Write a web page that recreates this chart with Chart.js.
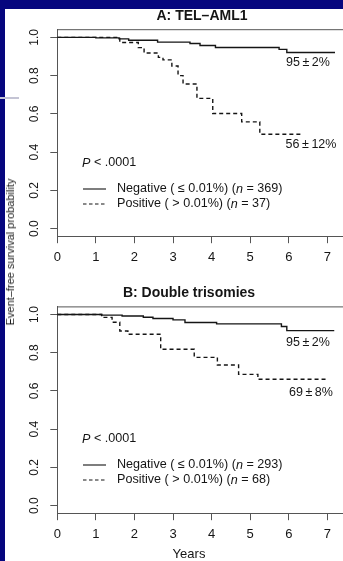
<!DOCTYPE html>
<html>
<head>
<meta charset="utf-8">
<script src="https://cdn.jsdelivr.net/npm/chart.js@4.4.0/dist/chart.umd.min.js"></script>
<style>
  html, body { margin: 0; padding: 0; }
  body { width: 343px; height: 561px; overflow: hidden; background: #06067e; position: relative;
         font-family: "Liberation Sans", Arial, sans-serif; }
  #paper { position: absolute; left: 5px; top: 9px; width: 338px; height: 552px; background: #fff; }
  #rule { position: absolute; left: 0; top: 97px; width: 19px; height: 2px; background: #c4c4d4; }
  canvas { position: absolute; left: 0; }
  #kmA { top: 0; }
  #kmB { top: 270px; }
  #ytitle { position: absolute; left: 10px; top: 252px; transform: translate(-50%, -50%) rotate(-90deg);
            white-space: nowrap; font-size: 11px; color: #1a1a1a; }
</style>
</head>
<body>
<div id="paper"></div>
<div id="rule"></div>
<canvas id="kmA" width="370" height="265"></canvas>
<canvas id="kmB" width="370" height="291"></canvas>
<div id="ytitle">Event–free survival probability</div>
<script>
const yearTicks = [0, 1, 2, 3, 4, 5, 6, 7];
const survTicks = [0, 0.2, 0.4, 0.6, 0.8, 1.0];

// A: TEL-AML1
const telNegYears = [0, 1.0, 1.6, 1.85, 2.6, 3.44, 3.7, 4.1, 5.75, 5.95, 7.2];
const telNegSurv  = [1, 0.997, 0.992, 0.985, 0.975, 0.968, 0.957, 0.947, 0.937, 0.921, 0.921];
const telPosYears = [0, 1.62, 2.1, 2.25, 2.62, 2.74, 2.97, 3.13, 3.26, 3.62, 4.03, 4.78, 5.25, 6.37];
const telPosSurv  = [1, 0.973, 0.946, 0.918, 0.895, 0.882, 0.85, 0.80, 0.756, 0.681, 0.602, 0.558, 0.493, 0.493];
const telCounts = [369, 37];
const telEstimates = ['95\u2009±\u20092%', '56\u2009±\u200912%'];

// B: double trisomies
const triNegYears = [0, 1.15, 1.68, 2.23, 2.48, 3.0, 3.31, 4.13, 5.81, 5.95, 7.18];
const triNegSurv  = [1, 0.997, 0.992, 0.986, 0.979, 0.972, 0.958, 0.951, 0.937, 0.916, 0.916];
const triPosYears = [0, 1.15, 1.42, 1.62, 1.83, 2.68, 3.55, 4.15, 4.7, 5.2, 7.02];
const triPosSurv  = [1, 0.985, 0.96, 0.914, 0.897, 0.818, 0.776, 0.736, 0.687, 0.661, 0.661];
const triCounts = [293, 68];
const triEstimates = ['95\u2009±\u20092%', '69\u2009±\u20098%'];

const groupNames = ['Negative', 'Positive'];
const groupCuts = ['≤ 0.01%', '> 0.01%'];
const pValue = '.0001';

const FONT = '"Liberation Sans", Arial, Helvetica, sans-serif';
const INK = '#151515';
const AXIS = '#555';

function toPoints(xs, ys) {
    return xs.map((x, i) => ({ x: x, y: ys[i] }));
}

function richText(ctx, x, y, parts, size) {
    parts.forEach(p => {
        ctx.font = (p[1] ? 'italic ' : '') + size + 'px ' + FONT;
        ctx.fillText(p[0], x, y);
        x += ctx.measureText(p[0]).width;
    });
}

// box top, title, estimates, p value and legend
function decor(o) {
    return {
        id: 'decor',
        afterDraw(chart) {
            const ctx = chart.ctx, a = chart.chartArea;
            ctx.save();
            ctx.strokeStyle = AXIS;
            ctx.lineWidth = 1;
            ctx.beginPath();
            ctx.moveTo(a.left, a.top);
            ctx.lineTo(chart.width, a.top);
            ctx.stroke();

            ctx.fillStyle = INK;
            ctx.textBaseline = 'middle';
            ctx.textAlign = 'center';
            ctx.font = 'bold 14px ' + FONT;
            ctx.fillText(o.title, o.titleX, o.titleY);

            ctx.font = '12.5px ' + FONT;
            ctx.fillText(o.estimates[0], 308, o.estY[0]);
            ctx.fillText(o.estimates[1], 311, o.estY[1]);
            ctx.font = '13px ' + FONT;
            if (o.xTitle) ctx.fillText(o.xTitle, 189, o.xTitleY);

            ctx.textAlign = 'left';
            richText(ctx, 82, o.pY, [['P', true], [' < ' + pValue, false]], 12.6);

            for (let i = 0; i < 2; i++) {
                const y = o.pY + 26 + i * 15;
                ctx.strokeStyle = INK;
                ctx.lineWidth = 1.1;
                ctx.setLineDash(i ? [3.5, 2.5] : []);
                ctx.beginPath();
                ctx.moveTo(83, y);
                ctx.lineTo(106, y);
                ctx.stroke();
                richText(ctx, 117, y, [
                    [groupNames[i] + ' ( ' + groupCuts[i] + ') (', false],
                    ['n', true],
                    [' = ' + o.counts[i] + ')', false]
                ], 12.6);
            }
            ctx.restore();
        }
    };
}

function kmChart(id, o) {
    const canvas = document.getElementById(id);
    const W = canvas.width, H = canvas.height;
    return new Chart(canvas, {
        type: 'line',
        data: {
            datasets: [
                { data: toPoints(o.negX, o.negY), stepped: true, borderColor: INK, borderWidth: 1.4, pointRadius: 0, fill: false },
                { data: toPoints(o.posX, o.posY), stepped: true, borderColor: INK, borderWidth: 1.4, borderDash: [4, 3], pointRadius: 0, fill: false }
            ]
        },
        options: {
            responsive: false,
            animation: false,
            events: [],
            layout: { padding: { top: o.top, right: W - 346.6, left: 0, bottom: 0 } },
            plugins: { legend: { display: false }, tooltip: { enabled: false } },
            scales: {
                x: {
                    type: 'linear', min: 0, max: 7.5,
                    afterBuildTicks: s => { s.ticks = yearTicks.map(v => ({ value: v })); },
                    afterFit: s => { s.height = H - o.bottom; s.paddingLeft = 0; s.paddingRight = 0; },
                    border: { color: AXIS, width: 1 },
                    grid: { drawOnChartArea: false, tickLength: 7, color: AXIS },
                    ticks: { color: INK, font: { size: 13, family: FONT }, padding: 6, maxRotation: 0, autoSkip: false }
                },
                y: {
                    type: 'linear', min: -0.04, max: 1.04,
                    afterBuildTicks: s => { s.ticks = survTicks.map(v => ({ value: v })); },
                    afterFit: s => { s.width = 57.3; s.paddingTop = 0; s.paddingBottom = 0; },
                    border: { color: AXIS, width: 1 },
                    grid: { drawOnChartArea: false, tickLength: 7, color: AXIS },
                    ticks: {
                        color: INK, font: { size: 12, family: FONT }, padding: 7,
                        minRotation: 90, maxRotation: 90, crossAlign: 'center', autoSkip: false,
                        callback: v => v.toFixed(1)
                    }
                }
            }
        },
        plugins: [decor(o)]
    });
}

kmChart('kmA', {
    negX: telNegYears, negY: telNegSurv, posX: telPosYears, posY: telPosSurv,
    top: 29.7, bottom: 236.2,
    title: 'A: TEL–AML1', titleX: 202, titleY: 16,
    estimates: telEstimates, estY: [63, 145], pY: 163, counts: telCounts
});

kmChart('kmB', {
    negX: triNegYears, negY: triNegSurv, posX: triPosYears, posY: triPosSurv,
    top: 36.9, bottom: 243.2,
    title: 'B: Double trisomies', titleX: 189, titleY: 23,
    estimates: triEstimates, estY: [73, 123], pY: 169, counts: triCounts,
    xTitle: 'Years', xTitleY: 284
});
</script>
</body>
</html>
